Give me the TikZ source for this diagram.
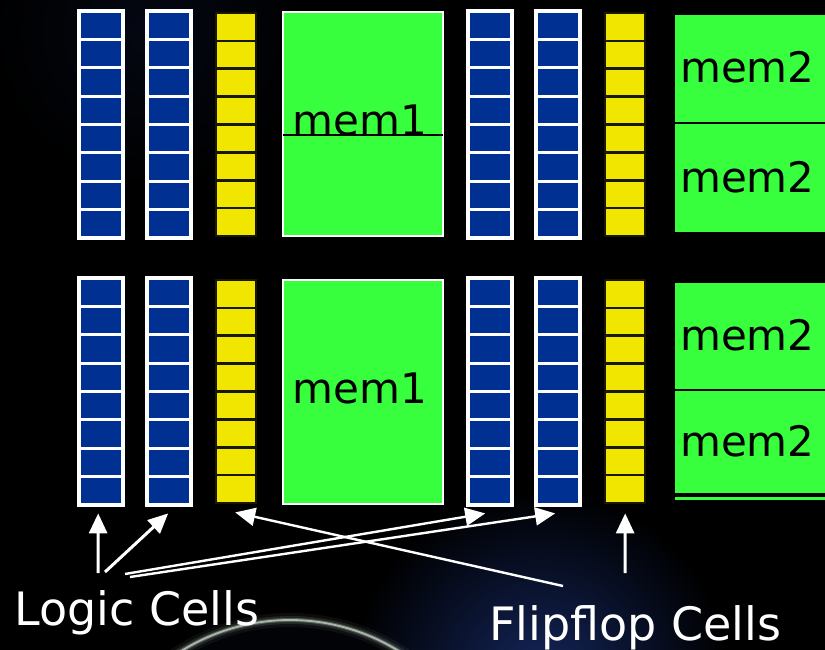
\documentclass[tikz,border=0pt]{standalone}
\usepackage{fontspec}
\setmainfont{DejaVu Sans}
\usetikzlibrary{positioning,arrows.meta,calc}
\definecolor{cellblue}{RGB}{0,48,145}
\definecolor{ffyellow}{RGB}{240,230,0}
\definecolor{memgreen}{RGB}{56,255,61}
\definecolor{glowblue}{RGB}{20,38,92}
\definecolor{rimlight}{RGB}{200,215,200}
\tikzset{
  colframe/.style={inner sep=0pt,minimum width=44pt,minimum height=227pt},
  ffframe/.style={inner sep=0pt,minimum width=40pt,minimum height=223pt},
  bluecell/.style={draw=white,line width=3.2pt,fill=cellblue},
  ffcell/.style={draw=black!90!ffyellow,line width=2.6pt,fill=ffyellow},
  memone/.style={draw=white,line width=2.2pt,fill=memgreen,inner sep=0pt,minimum width=160pt,minimum height=224pt},
  memtwo/.style={draw=black,line width=2.2pt,fill=memgreen,inner sep=0pt,minimum width=157pt},
  memtext/.style={font=\fontsize{42}{48}\selectfont,text=black,inner sep=0pt},
  celllabel/.style={font=\fontsize{46}{54}\selectfont,text=white,inner sep=0pt},
  pointer/.style={draw=white,line width=3pt,-{Triangle[length=20pt,width=18pt]}},
}

\begin{document}
\begin{tikzpicture}[x=1pt,y=-1pt]
\useasboundingbox (0,0) rectangle (825,650);
\clip (0,0) rectangle (825,650);

% slide background
\fill[black] (0,0) rectangle (825,650);
\shade[inner color=black!80!glowblue,outer color=black] (150,30) circle (160);
\shade[inner color=glowblue,outer color=black] (540,680) circle (190);
\fill[black!92!glowblue] (290,826) circle (206);
\foreach \w/\o in {14/0.06,8/0.12,4/0.3,1.8/0.75}
  \draw[rimlight,line width=\w pt,opacity=\o] (290,826) ++(232:206) arc (232:308:206);

% logic cell columns
\foreach \nm/\x in {lcA/79,lcB/147,lcC/468,lcD/536}
  \foreach \rw/\y in {t/11,b/278}{
    \node[colframe,anchor=north west] (\nm\rw) at (\x,\y) {};
    \foreach \i in {0,...,7}
      \draw[bluecell] (\x,\y+\i*28.375) rectangle ++(44,28.375);
  }

% flipflop columns
\foreach \nm/\x in {ffA/216,ffB/605}
  \foreach \rw/\y in {t/13,b/280}{
    \node[ffframe,anchor=north west] (\nm\rw) at (\x,\y) {};
    \foreach \i in {0,...,7}
      \draw[ffcell] (\x,\y+\i*27.875) rectangle ++(40,27.875);
  }

% mem1 blocks
\node[memone,anchor=north west] (mAt) at (282,11) {};
\node[memone,anchor=north west] (mAb) at (282,279) {};
\node[memtext,anchor=base] (mAtl) at ($(mAt.center)+(-3,11)$) {mem1};
\draw[black,line width=1.4pt,shorten <=1pt,shorten >=1pt] (mAt.west |- mAtl.base) -- (mAt.east |- mAtl.base);
\node[memtext,anchor=base] (mAbl) at ($(mAb.center)+(-3,11)$) {mem1};

% mem2 blocks
\node[memtwo,anchor=north west,minimum height=109pt] (mBa) at (673,13) {};
\node[memtwo,anchor=north west,minimum height=110pt] (mBb) at (673,122) {};
\node[memtwo,anchor=north west,minimum height=108pt] (mBc) at (673,281) {};
\node[memtwo,anchor=north west,minimum height=104pt] (mBd) at (673,389) {};
\node[memtwo,anchor=north west,minimum height=5pt] (mBe) at (673,495) {};
\foreach \m in {mBa,mBb,mBc,mBd}
  \node[memtext,anchor=base west] (\m l) at ($(\m.west)+(7,14)$) {mem2};

% labels
\node[celllabel,anchor=base west] (logic) at (14,625) {Logic Cells};
\node[celllabel,anchor=base west] (flip) at (489,640) {Flipflop Cells};

\coordinate (lgA) at (98,573);
\coordinate (lgB) at (105,572);
\coordinate (lgC) at (125,574);
\coordinate (lgD) at (130,577);
\coordinate (ffs) at (563,586);
\coordinate (ffv) at (625,573);

\draw[pointer] (lgA) -- ($(lcAb.south)+(-3,8)$);
\draw[pointer] (lgB) -- ($(lcBb.south)+(-1,8)$);
\draw[pointer,line width=2.4pt] (lgC) -- ($(lcCb.south)+(-5,8)$);
\draw[pointer,line width=2.4pt] (lgD) -- ($(lcDb.south)+(-3,8)$);
\draw[pointer,line width=2.4pt] (ffs) -- ($(ffAb.south)+(-1,9)$);
\draw[pointer] (ffv) -- ($(ffBb.south)+(0,10)$);

\end{tikzpicture}
\end{document}
